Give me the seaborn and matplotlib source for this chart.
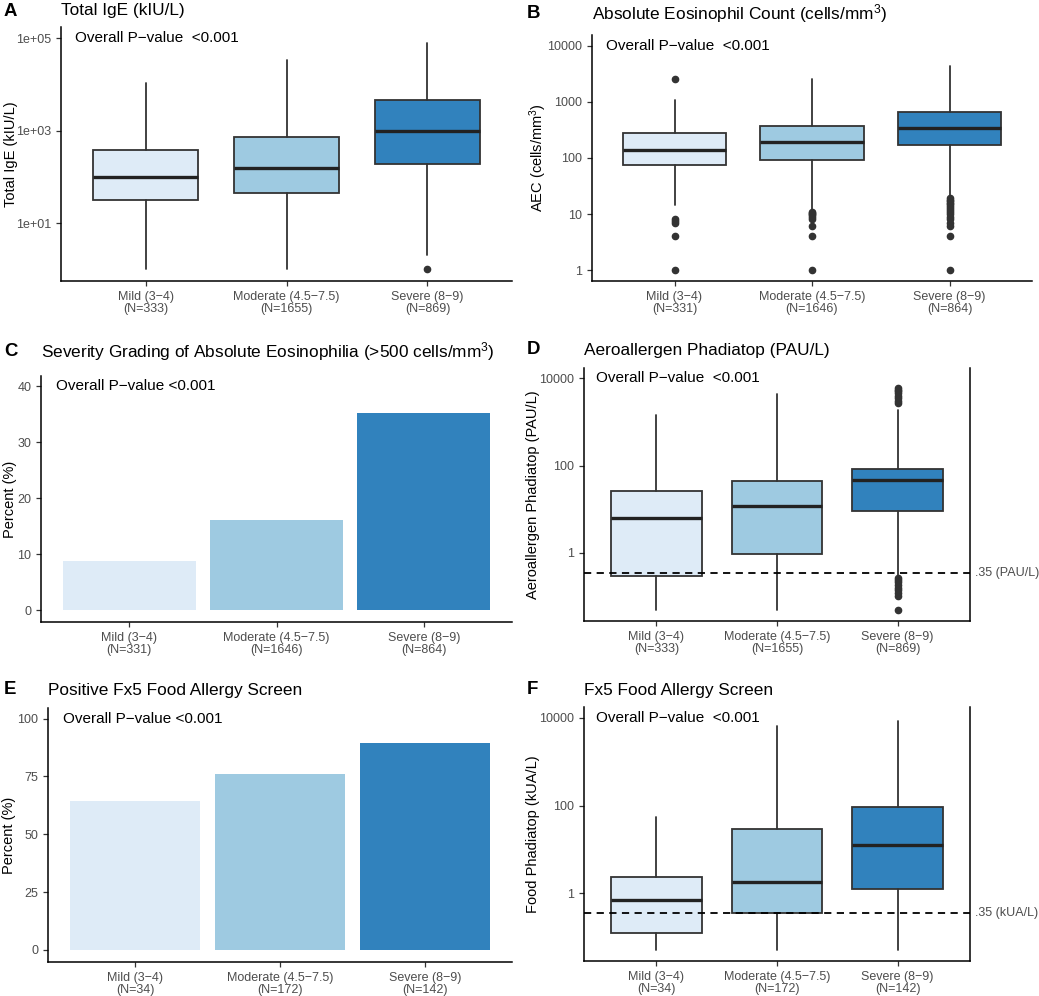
import numpy as np
import pandas as pd
import matplotlib
matplotlib.use("Agg")
import matplotlib.pyplot as plt
import seaborn as sns

# ---------------- data ----------------
groups = ["Mild (3\u22124)", "Moderate (4.5\u22127.5)", "Severe (8\u22129)"]
colors = ["#DEEBF7", "#9ECAE1", "#3182BD"]

n_ige = [333, 1655, 869]
n_aec = [331, 1646, 864]
n_eos = [331, 1646, 864]
n_pau = [333, 1655, 869]
n_fx5pos = [34, 172, 142]
n_fx5 = [34, 172, 142]

# Total IgE (kIU/L) box statistics
ige_whislo = [1.0, 1.0, 2.1]
ige_q1 = [31, 45, 190]
ige_med = [102, 156, 1000]
ige_q3 = [390, 716, 4700]
ige_whishi = [10800, 33000, 79000]
ige_fliers = [[], [], [1.0]]

# AEC (cells/mm3) box statistics
aec_whislo = [14.5, 11.7, 20.5]
aec_q1 = [76, 93, 168]
aec_med = [141, 194, 347]
aec_q3 = [276, 370, 655]
aec_whishi = [1090, 2570, 4450]
aec_fliers = [[2600, 8, 7.5, 7, 4, 1],
              [11, 10.5, 10, 9.5, 9, 8, 6, 4, 1],
              [19, 18, 17, 16, 15, 14, 13, 12, 11, 10, 9, 8, 7, 6, 4, 1]]

# Percent with absolute eosinophilia
eos_pct = [8.75, 16.1, 35.2]

# Aeroallergen Phadiatop (PAU/L)
pau_whislo = [0.05, 0.05, 0.29]
pau_q1 = [0.30, 0.95, 8.9]
pau_med = [6.3, 11.8, 46.5]
pau_q3 = [25.6, 43.4, 84]
pau_whishi = [1420, 4470, 1850]
pau_fliers = [[], [],
              [6000, 5500, 5000, 4500, 4000, 3500, 3000, 2700,
               0.27, 0.24, 0.21, 0.18, 0.16, 0.14, 0.12, 0.10, 0.05]]

# Positive Fx5 percent
fx5_pct = [64.6, 76.1, 89.4]

# Fx5 Food Phadiatop (kUA/L)
fx5_whislo = [0.05, 0.05, 0.05]
fx5_q1 = [0.12, 0.35, 1.25]
fx5_med = [0.71, 1.77, 12.4]
fx5_q3 = [2.3, 29.3, 93]
fx5_whishi = [56, 6500, 8700]
fx5_fliers = [[], [], []]

# ---------------- style ----------------
sns.set_theme(style="ticks")
plt.rcParams["font.family"] = ["Liberation Sans", "DejaVu Sans"]
plt.rcParams["mathtext.default"] = "regular"
plt.rcParams["text.color"] = "black"
plt.rcParams["axes.labelcolor"] = "black"
plt.rcParams["axes.linewidth"] = 1.1
plt.rcParams["xtick.major.width"] = 0.9
plt.rcParams["ytick.major.width"] = 0.9
plt.rcParams["xtick.major.size"] = 3.5
plt.rcParams["ytick.major.size"] = 3.5
plt.rcParams["xtick.color"] = "#333333"
plt.rcParams["ytick.color"] = "#333333"

W, H = 1039, 996
fig = plt.figure(figsize=(W / 100, H / 100), dpi=100)
fig.patch.set_facecolor("white")

TICK_FS = 9
LAB_FS = 10.5
TITLE_FS = 12.4
ANN_FS = 11


def make_ax(l, r, t, b):
    return fig.add_axes([l / W, 1 - b / H, (r - l) / W, (b - t) / H])


def style_ax(ax, ns, ylabel, label_cx, right_spine=False):
    sns.despine(ax=ax, right=not right_spine, top=True)
    ax.set_xlim(-0.6, 2.6)
    ax.set_xticks(range(len(groups)))
    ax.set_xticklabels([f"{g}\n(N={n})" for g, n in zip(groups, ns)],
                       fontsize=TICK_FS, color="#4D4D4D", linespacing=1.0)
    ax.tick_params(axis="y", labelsize=TICK_FS, labelcolor="#4D4D4D")
    ax.set_xlabel("")
    ax.set_ylabel(ylabel, fontsize=LAB_FS, color="black")
    pos = ax.get_position()
    xfrac = (label_cx / W - pos.x0) / pos.width
    ax.yaxis.set_label_coords(xfrac, 0.5)
    ax.yaxis.label.set_va("center")
    for sp in ax.spines.values():
        sp.set_color("black")


def panel_title(ax, letter, title, letter_x, ty):
    pos = ax.get_position()
    fig.text(letter_x / W, 1 - ty / H, letter, fontsize=TITLE_FS + 1,
             fontweight="bold", ha="left", va="center", color="black")
    fig.text(pos.x0, 1 - ty / H, title, fontsize=TITLE_FS, ha="left",
             va="center", color="black")


def draw_boxes(ax, whislo, q1, med, q3, whishi, fliers):
    stats = []
    for i in range(len(groups)):
        stats.append(dict(whislo=whislo[i], q1=q1[i], med=med[i], q3=q3[i],
                          whishi=whishi[i], fliers=fliers[i], label=groups[i]))
    bp = ax.bxp(stats, positions=range(len(groups)), widths=0.75,
                patch_artist=True, showfliers=True, manage_ticks=False,
                boxprops=dict(edgecolor="#333333", linewidth=1.3),
                whiskerprops=dict(color="#333333", linewidth=1.3),
                capprops=dict(linewidth=0),
                medianprops=dict(color="#222222", linewidth=2.4),
                flierprops=dict(marker="o", markerfacecolor="#333333",
                                markeredgecolor="#333333", markersize=4.5))
    for patch, c in zip(bp["boxes"], colors):
        patch.set_facecolor(c)
    for cap in bp["caps"]:
        cap.set_visible(False)
    ax.set_yscale("log")
    ax.yaxis.set_minor_locator(matplotlib.ticker.NullLocator())


def draw_bars(ax, pct):
    df = pd.DataFrame({"group": groups, "pct": pct})
    sns.barplot(data=df, x="group", y="pct", hue="group", palette=colors,
                width=0.9, saturation=1, legend=False, ax=ax,
                edgecolor="none", errorbar=None)


# ---------------- Panel A ----------------
axA = make_ax(61, 512, 27, 281)
draw_boxes(axA, ige_whislo, ige_q1, ige_med, ige_q3, ige_whishi, ige_fliers)
axA.set_ylim(10 ** -0.25, 10 ** 5.24)
axA.set_yticks([10, 1000, 100000])
axA.set_yticklabels(["1e+01", "1e+03", "1e+05"])
style_ax(axA, n_ige, "Total IgE (kIU/L)", 11)
axA.text(-0.5, 1e5, "Overall P\u2212value  <0.001", fontsize=ANN_FS, ha="left", va="center")
panel_title(axA, "A", "Total IgE (kIU/L)", 4, 11)

# ---------------- Panel B ----------------
axB = make_ax(592, 1032, 35, 281)
draw_boxes(axB, aec_whislo, aec_q1, aec_med, aec_q3, aec_whishi, aec_fliers)
axB.set_ylim(10 ** -0.196, 10 ** 4.196)
axB.set_yticks([1, 10, 100, 1000, 10000])
axB.set_yticklabels(["1", "10", "100", "1000", "10000"])
style_ax(axB, n_aec, "AEC (cells/mm$^3$)", 538)
axB.text(-0.5, 1e4, "Overall P\u2212value  <0.001", fontsize=ANN_FS, ha="left", va="center")
panel_title(axB, "B", "Absolute Eosinophil Count (cells/mm$^3$)", 527, 14)

# ---------------- Panel C ----------------
axC = make_ax(41, 512, 376, 622)
draw_bars(axC, eos_pct)
axC.set_ylim(-2.1, 41.8)
axC.set_yticks([0, 10, 20, 30, 40])
style_ax(axC, n_eos, "Percent (%)", 10)
axC.text(-0.5, 40, "Overall P\u2212value <0.001", fontsize=ANN_FS, ha="left", va="center")
panel_title(axC, "C", "Severity Grading of Absolute Eosinophilia (>500 cells/mm$^3$)", 4, 352)

# ---------------- Panel D ----------------
axD = make_ax(584, 970, 368, 621)
draw_boxes(axD, pau_whislo, pau_q1, pau_med, pau_q3, pau_whishi, pau_fliers)
axD.set_ylim(10 ** -1.563, 10 ** 4.236)
axD.set_yticks([1, 100, 10000])
axD.set_yticklabels(["1", "100", "10000"])
style_ax(axD, n_pau, "Aeroallergen Phadiatop (PAU/L)", 533, right_spine=True)
axD.axhline(0.35, color="black", linestyle=(0, (4, 3)), linewidth=1.3)
axD.text(1.012, 0.35, ".35 (PAU/L)", transform=axD.get_yaxis_transform(),
         fontsize=TICK_FS, color="#4D4D4D", ha="left", va="center")
axD.text(-0.5, 1e4, "Overall P\u2212value  <0.001", fontsize=ANN_FS, ha="left", va="center")
panel_title(axD, "D", "Aeroallergen Phadiatop (PAU/L)", 527, 350)

# ---------------- Panel E ----------------
axE = make_ax(48, 512, 708, 962)
draw_bars(axE, fx5_pct)
axE.set_ylim(-5.2, 104.6)
axE.set_yticks([0, 25, 50, 75, 100])
style_ax(axE, n_fx5pos, "Percent (%)", 9)
axE.text(-0.5, 100, "Overall P\u2212value <0.001", fontsize=ANN_FS, ha="left", va="center")
panel_title(axE, "E", "Positive Fx5 Food Allergy Screen", 4, 690)

# ---------------- Panel F ----------------
axF = make_ax(584, 970, 707, 961)
draw_boxes(axF, fx5_whislo, fx5_q1, fx5_med, fx5_q3, fx5_whishi, fx5_fliers)
axF.set_ylim(10 ** -1.55, 10 ** 4.25)
axF.set_yticks([1, 100, 10000])
axF.set_yticklabels(["1", "100", "10000"])
style_ax(axF, n_fx5, "Food Phadiatop (kUA/L)", 533, right_spine=True)
axF.axhline(0.35, color="black", linestyle=(0, (4, 3)), linewidth=1.3)
axF.text(1.012, 0.35, ".35 (kUA/L)", transform=axF.get_yaxis_transform(),
         fontsize=TICK_FS, color="#4D4D4D", ha="left", va="center")
axF.text(-0.5, 1e4, "Overall P\u2212value  <0.001", fontsize=ANN_FS, ha="left", va="center")
panel_title(axF, "F", "Fx5 Food Allergy Screen", 527, 690)

fig.savefig("out.png", dpi=100, facecolor="white")
